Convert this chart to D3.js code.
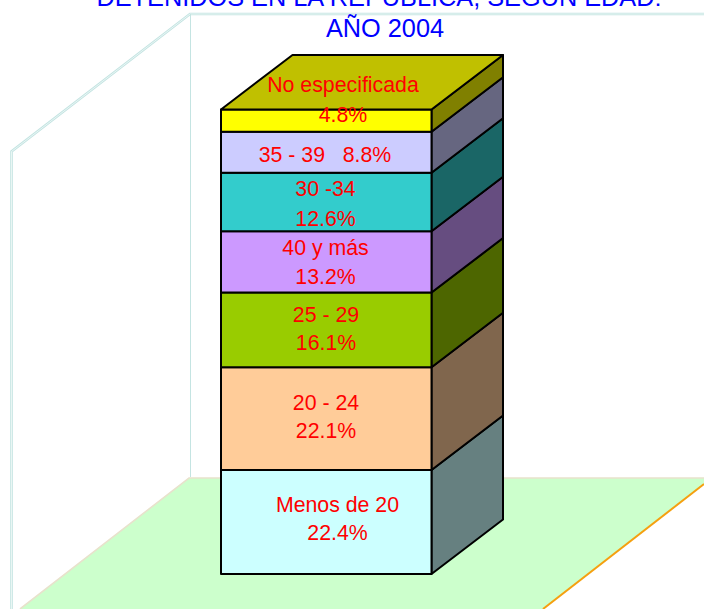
<!DOCTYPE html>
<html><head><meta charset="utf-8">
<style>html,body{margin:0;padding:0;background:#fff;overflow:hidden}svg{display:block}text{font-family:"Liberation Sans",Arial,sans-serif}</style>
<script src="https://cdn.jsdelivr.net/npm/d3@7/dist/d3.min.js"></script>
</head><body><div id="c"></div>
<script>
const categories = ["Menos de 20","20 - 24","25 - 29","40 y más","30 -34","35 - 39","No especificada"];
const values = [22.4,22.1,16.1,13.2,12.6,8.8,4.8];
const valueLabels = ["22.4%","22.1%","16.1%","13.2%","12.6%","8.8%","4.8%"];
const frontColors = ["#ccffff","#ffcc99","#99cc00","#cc99ff","#33cccc","#ccccff","#ffff00"];
const sideColors = ["#668080","#80664d","#4d6600","#664d80","#1a6666","#666680","#808000"];
const titleLines = ["DETENIDOS EN LA REPÚBLICA, SEGÚN EDAD:","AÑO 2004"];

const W=704,H=609;
const svg=d3.select("#c").append("svg").attr("width",W).attr("height",H).attr("viewBox",`0 0 ${W} ${H}`);

const y=d3.scaleLinear().domain([0,100]).range([574,109.5]);
const x=d3.scaleBand().domain(["Total"]).range([221,431.5]);
const dx=71.5, dy=-54.5;
const line=d3.line();

// walls
const wallStroke="#c4e4e2";
const wallPath=line([[11.5,609],[11.5,151.5],[190,14],[704,14]]);
svg.append("path").attr("d",wallPath).attr("fill","none").attr("stroke",wallStroke).attr("stroke-width",2.6);
svg.append("path").attr("d",wallPath).attr("fill","none").attr("stroke","#f2faf9").attr("stroke-width",.8);
svg.append("line").attr("x1",190.5).attr("x2",190.5).attr("y1",14).attr("y2",477).attr("stroke",wallStroke).attr("stroke-width",1);
// floor
svg.append("path").attr("d",line([[189,478],[704,478],[704,484],[543,609],[20,609]])).attr("fill","#ccffcc");
svg.append("path").attr("d",line([[20,609],[189,478],[704,478]])).attr("fill","none").attr("stroke","#e8e2cc").attr("stroke-width",1.6);
svg.append("path").attr("d",line([[543,609],[704,484]])).attr("fill","none").attr("stroke","#f5a010").attr("stroke-width",2);

// stack
const stacked=d3.stack().keys(categories)([Object.fromEntries(categories.map((c,i)=>[c,values[i]]))]);
const segs=stacked.map((s,i)=>({i,y0:s[0][0],y1:s[0][1]}));
const xl=x("Total"),xr=xl+x.bandwidth();
const g=svg.append("g").attr("stroke","#000").attr("stroke-width",2).attr("stroke-linejoin","round");
g.selectAll("path.side").data(segs).join("path").attr("class","side")
 .attr("fill",d=>sideColors[d.i])
 .attr("d",d=>line([[xr,y(d.y0)],[xr+dx,y(d.y0)+dy],[xr+dx,y(d.y1)+dy],[xr,y(d.y1)]])+"Z");
g.selectAll("rect.front").data(segs).join("rect").attr("class","front")
 .attr("x",xl).attr("width",xr-xl).attr("y",d=>y(d.y1)).attr("height",d=>y(d.y0)-y(d.y1))
 .attr("fill",d=>frontColors[d.i]);
g.append("path").attr("fill","#c0c000")
 .attr("d",line([[xl,y(100)],[xl+dx,y(100)+dy],[xr+dx,y(100)+dy],[xr,y(100)]])+"Z");

// labels
const labelAnchors=[[337.5,505,533],[326,403,431],[326,315,343],[325.5,248,277],[325.5,189,219],null,[343,85,115]];
const lab=svg.append("g").attr("fill","#ff0000").attr("font-size",21.3).attr("text-anchor","middle").attr("dominant-baseline","central");
segs.forEach(d=>{
  const a=labelAnchors[d.i];
  if(a){
    lab.append("text").attr("x",a[0]).attr("y",a[1]).text(categories[d.i]);
    lab.append("text").attr("x",a[0]).attr("y",a[2]).text(valueLabels[d.i]);
  } else {
    lab.append("text").attr("x",325).attr("y",155).attr("xml:space","preserve").text(categories[d.i]+"   "+valueLabels[d.i]);
  }
});
// title
const t=svg.append("g").attr("fill","#0000ff").attr("font-size",25.3).attr("text-anchor","middle");
t.append("text").attr("x",379).attr("y",6).text(titleLines[0]);
t.append("text").attr("x",385).attr("y",37).text(titleLines[1]);
</script></body></html>
